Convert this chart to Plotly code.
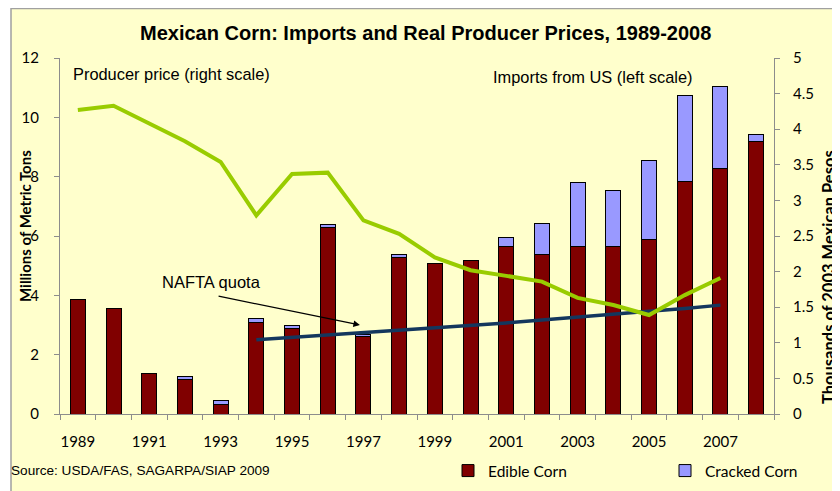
import plotly.graph_objects as go

years = list(range(1989, 2009))
edible = [3.87, 3.54, 1.35, 1.16, 0.31, 3.09, 2.87, 6.29, 2.61, 5.27,
          5.09, 5.18, 5.65, 5.38, 5.65, 5.65, 5.88, 7.85, 8.26, 9.18]
total = [3.87, 3.54, 1.35, 1.26, 0.44, 3.22, 2.97, 6.38, 2.67, 5.36,
         5.09, 5.18, 5.94, 6.42, 7.80, 7.52, 8.56, 10.73, 11.04, 9.41]
cracked = [round(t - e, 2) for t, e in zip(total, edible)]

price_years = list(range(1989, 2008))
price = [4.27, 4.33, 4.08, 3.83, 3.54, 2.79, 3.37, 3.39, 2.72, 2.53,
         2.20, 2.02, 1.94, 1.86, 1.63, 1.53, 1.39, 1.67, 1.91]

quota_years = list(range(1994, 2008))
quota = [2.50, 2.58, 2.65, 2.73, 2.81, 2.90, 2.99, 3.07, 3.17, 3.26,
         3.36, 3.46, 3.56, 3.67]

label_years = list(range(1989, 2008, 2))
left_ticks = [0, 2, 4, 6, 8, 10, 12]
right_ticks = [0, 0.5, 1, 1.5, 2, 2.5, 3, 3.5, 4, 4.5, 5]

GRAY = "#8C8C8C"
AXF = dict(family="Lato, Noto Sans, sans-serif", size=15, color="#000000")
LEGF = dict(family="Lato, Noto Sans, sans-serif", size=15.5, color="#000000")
ARIAL = "Liberation Sans, Arial, sans-serif"

fig = go.Figure()
fig.add_trace(go.Bar(x=years, y=edible, name="Edible Corn", legend="legend",
                     marker=dict(color="#800000", line=dict(color="#000000", width=1))))
fig.add_trace(go.Bar(x=years, y=cracked, name="Cracked Corn", legend="legend2",
                     marker=dict(color="#9999FF", line=dict(color="#000000", width=1))))
fig.add_trace(go.Scatter(x=quota_years, y=quota, mode="lines", showlegend=False,
                         line=dict(color="#14375E", width=3.5)))
fig.add_trace(go.Scatter(x=price_years, y=price, mode="lines", yaxis="y2", showlegend=False,
                         line=dict(color="#99CC00", width=4)))

# page offset of the figure inside the browser (default body margin)
OFF = 8
W, H = 840 - OFF, 491 - OFF
L, T = 60 - OFF, 58 - OFF
R = W - (774 - OFF)
B = H - (414 - OFF)
pw, ph = W - L - R, H - T - B

def px_x(x):
    return (x - OFF - L) / pw

def px_y(y):
    return (H - B - (y - OFF)) / ph

leg_common = dict(orientation="h", yanchor="middle", xanchor="left",
                  font=LEGF, bgcolor="rgba(0,0,0,0)", itemclick=False,
                  itemwidth=30, tracegroupgap=0)

fig.update_layout(
    width=W, height=H,
    margin=dict(l=L, r=R, t=T, b=B, autoexpand=False),
    paper_bgcolor="#FFFFFF",
    plot_bgcolor="#FFFFFF",
    barmode="stack",
    bargap=0.58,
    showlegend=True,
    legend=dict(x=px_x(448), y=px_y(471), **leg_common),
    legend2=dict(x=px_x(665), y=px_y(471), **leg_common),
    xaxis=dict(range=[1988.5, 2008.5], tickmode="array", tickvals=label_years,
               ticktext=[str(v) for v in label_years], ticks="", showgrid=False,
               showline=True, linecolor=GRAY, linewidth=1, zeroline=False,
               tickfont=AXF, ticklabelstandoff=14,
               minor=dict(tickmode="array", tickvals=[1988.5 + i for i in range(21)],
                          ticks="outside", ticklen=5, tickcolor=GRAY, showgrid=False)),
    yaxis=dict(range=[0, 12], tickmode="array", tickvals=left_ticks, showgrid=False,
               showline=True, linecolor=GRAY, ticks="outside", ticklen=5, tickcolor=GRAY,
               zeroline=False, tickfont=AXF, ticklabelstandoff=12),
    yaxis2=dict(range=[0, 5], tickmode="array", tickvals=right_ticks,
                ticktext=[("%g" % v) for v in right_ticks], overlaying="y", side="right",
                showgrid=False, showline=True, linecolor=GRAY, ticks="outside", ticklen=5,
                tickcolor=GRAY, zeroline=False, tickfont=AXF, ticklabelstandoff=10),
    shapes=[dict(type="rect", xref="paper", yref="paper", layer="below",
                 x0=px_x(11), x1=px_x(860), y0=px_y(8.5), y1=px_y(520),
                 fillcolor="#FFFFCC", line=dict(color="#A0A0A0", width=1.5))],
    annotations=[
        dict(text="<b>Mexican Corn: Imports and Real Producer Prices, 1989-2008</b>",
             xref="paper", yref="paper", x=px_x(426), y=px_y(33), showarrow=False,
             xanchor="center", yanchor="middle", font=dict(family=ARIAL, size=20, color="#000")),
        dict(text="Producer price (right scale)", xref="paper", yref="paper",
             x=px_x(71), y=px_y(74), xanchor="left", yanchor="middle", showarrow=False,
             font=dict(family=ARIAL, size=16.4, color="#000")),
        dict(text="Imports from US (left scale)", xref="paper", yref="paper",
             x=px_x(491), y=px_y(77), xanchor="left", yanchor="middle", showarrow=False,
             font=dict(family=ARIAL, size=16.4, color="#000")),
        dict(text="NAFTA quota", xref="paper", yref="paper",
             x=px_x(160), y=px_y(282), xanchor="left", yanchor="middle", showarrow=False,
             font=dict(family=ARIAL, size=16.5, color="#000")),
        dict(text="", x=1996.9, y=3.0, xref="x", yref="y", ax=1992.9, ay=3.98,
             axref="x", ayref="y", showarrow=True, arrowhead=2, arrowsize=1,
             arrowwidth=1.3, arrowcolor="#000"),
        dict(text="Source: USDA/FAS, SAGARPA/SIAP 2009", xref="paper", yref="paper",
             x=px_x(9), y=px_y(470), xanchor="left", yanchor="middle", showarrow=False,
             font=dict(family=ARIAL, size=13.6, color="#000")),
        dict(text="<b>Millions of Metric Tons</b>", xref="paper", yref="paper",
             x=px_x(25), y=px_y(226), xanchor="center", yanchor="middle", textangle=-90,
             showarrow=False, font=dict(family="Lato, sans-serif", size=15, color="#000")),
        dict(text="<b>Thousands of 2003 Mexican Pesos</b>", xref="paper", yref="paper",
             x=px_x(829), y=px_y(277), xanchor="center", yanchor="middle", textangle=-90,
             showarrow=False, font=dict(family="Lato, sans-serif", size=16.5, color="#000")),
    ],
)

fig.write_html("out.html")
